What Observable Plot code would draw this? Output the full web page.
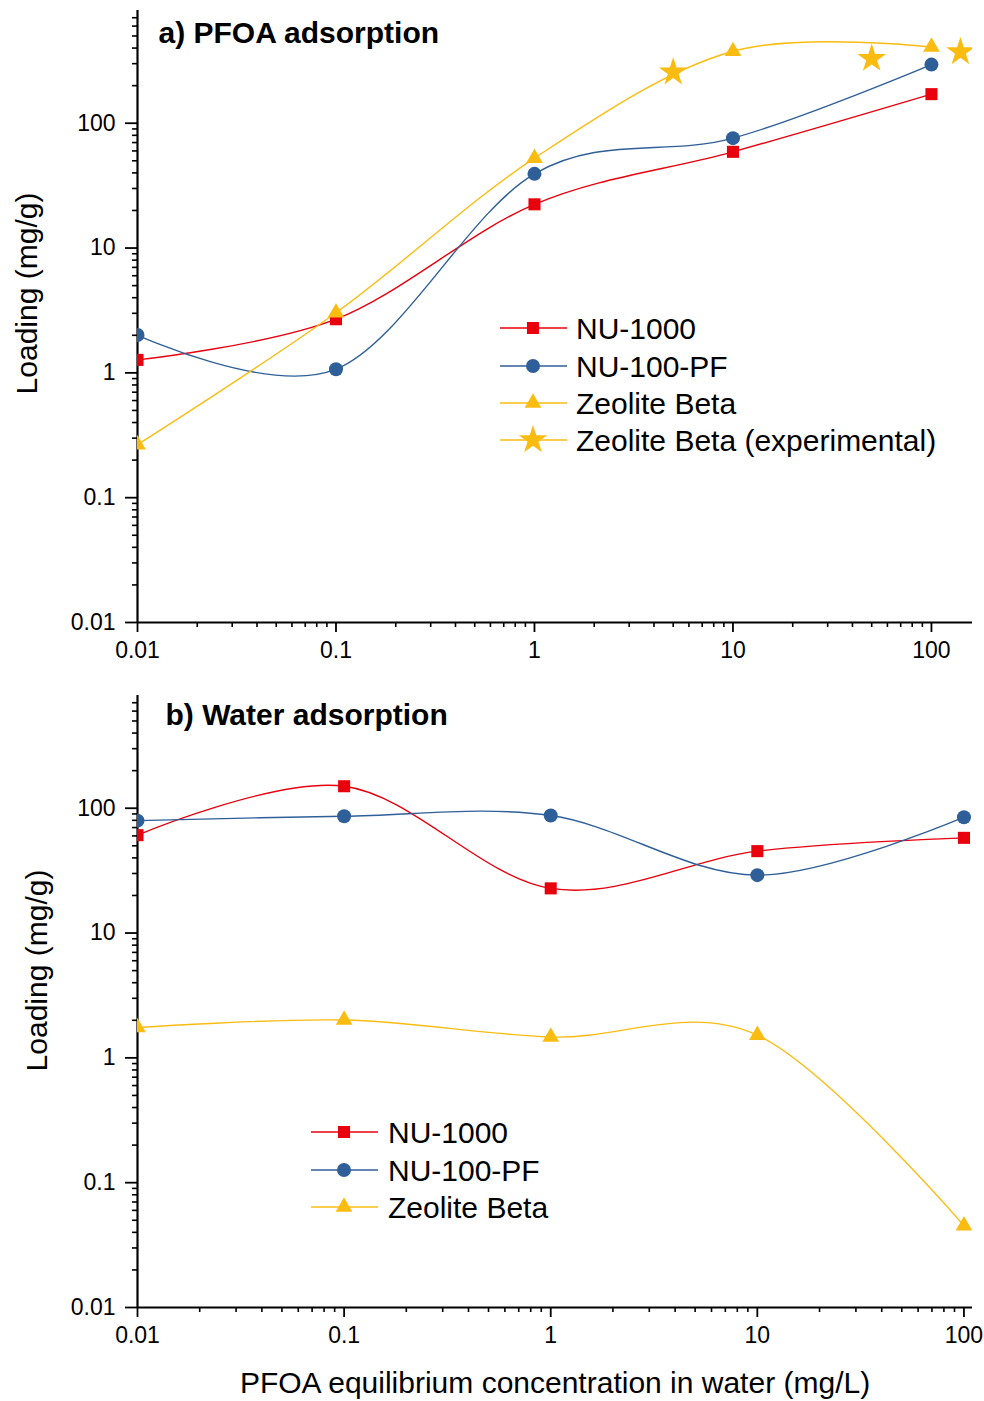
<!DOCTYPE html>
<html>
<head>
<meta charset="utf-8">
<script src="https://cdn.jsdelivr.net/npm/d3@7"></script>
<script src="https://cdn.jsdelivr.net/npm/@observablehq/plot@0.6"></script>
<style>
  body { margin: 0; background: #fff; }
  #fig { position: relative; width: 984px; height: 1401px; font-family: Arial, "Liberation Sans", Helvetica, sans-serif; }
  #fig > svg { position: absolute; left: 0; }
</style>
</head>
<body>
<div id="fig"></div>
<script>
// Equilibrium PFOA concentration in water (mg/L)
const concentrations = [0.01, 0.1, 1, 10, 100];

// a) PFOA loading (mg/g)
const pfoaNU1000   = [1.27, 2.69, 22.4, 59, 171];
const pfoaNU100PF  = [2.01, 1.07, 39.3, 75.9, 295];
const pfoaZeolite  = [0.266, 3.03, 52.5, 377, 408];
// Zeolite Beta, experimental points
const expConcentrations = [5, 50, 140];
const expZeolite        = [256, 329, 372];

// b) Water loading (mg/g)
const waterNU1000  = [60.8, 150, 22.8, 45.3, 57.9];
const waterNU100PF = [79.5, 86.3, 87.4, 29.1, 84.7];
const waterZeolite = [1.75, 2.01, 1.47, 1.52, 0.0453];

const seriesNames = ["NU-1000", "NU-100-PF", "Zeolite Beta"];
const expName = "Zeolite Beta (experimental)";
const majorTicks = [0.01, 0.1, 1, 10, 100];

const FONT = 'Arial, "Liberation Sans", Helvetica, sans-serif';
const COLOR = { "NU-1000": "#e8000d", "NU-100-PF": "#2f5f98", "Zeolite Beta": "#fbbc12" };
const SYMBOL = { "NU-1000": "square", "NU-100-PF": "circle", "Zeolite Beta": "triangle" };
const RADIUS = { "NU-1000": 6.8, "NU-100-PF": 7, "Zeolite Beta": 6.2 };

// 2..9 × 10^k between the ends of a log axis
function minorTicks(lo, hi) {
  const t = [];
  for (let e = -3; e <= 3; e++)
    for (let m = 2; m <= 9; m++) {
      const v = +(m * 10 ** e).toPrecision(3);
      if (v > lo && v < hi) t.push(v);
    }
  return t;
}
const fmt = d => String(d);

function panel(o) {
  const rows = o.series.flatMap(s =>
    concentrations.map((c, i) => ({ series: s.name, x: c, y: s.values[i] })));
  const marks = [
    Plot.axisY({ ticks: minorTicks(0.01, 800), tickSize: 5, tickFormat: () => "", color: "#000", strokeWidth: 1.6, label: null }),
    Plot.axisY({ ticks: majorTicks, tickSize: 12, tickPadding: 10, tickFormat: fmt, color: "#000", strokeWidth: 1.8, label: null }),
    Plot.axisX({ ticks: minorTicks(0.01, o.xMax), tickSize: 5, tickFormat: () => "", color: "#000", strokeWidth: 1.6, label: null }),
    Plot.axisX({ ticks: majorTicks, tickSize: 10, tickPadding: 9, tickFormat: fmt, color: "#000", strokeWidth: 1.8, label: null }),
    Plot.ruleX([0.01], { stroke: "#000", strokeWidth: 2.2 }),
    Plot.ruleY([0.01], { stroke: "#000", strokeWidth: 2.2 }),
    // smooth connecting curves (uniform Catmull–Rom spline through the points)
    Plot.line(rows, { x: "x", y: "y", z: "series", stroke: d => COLOR[d.series], curve: "cardinal", tension: 0, strokeWidth: 1.4, clip: true })
  ];
  for (const s of o.series) {
    marks.push(Plot.dot(rows.filter(d => d.series === s.name), {
      x: "x", y: "y", symbol: () => SYMBOL[s.name], fill: COLOR[s.name], r: RADIUS[s.name], clip: true
    }));
  }
  if (o.stars) {
    marks.push(Plot.dot(o.stars, { x: "x", y: "y", symbol: "star", fill: COLOR["Zeolite Beta"], r: 9, clip: true }));
  }
  marks.push(Plot.text([o.title], { frameAnchor: "top-left", textAnchor: "start", lineAnchor: "top", dx: o.titleDx, dy: o.titleDy, fontSize: 30, fontWeight: "bold", fill: "#000" }));
  marks.push(Plot.text(["Loading (mg/g)"], { frameAnchor: "left", rotate: -90, textAnchor: "middle", lineAnchor: "middle", dx: o.yTitleDx, dy: o.yTitleDy, fontSize: 30, fill: "#000" }));
  if (o.xTitle) {
    marks.push(Plot.text([o.xTitle], { frameAnchor: "bottom", textAnchor: "middle", lineAnchor: "middle", dy: o.xTitleDy, fontSize: 30, fill: "#000" }));
  }
  return Plot.plot({
    width: 984, height: o.height,
    marginLeft: 137, marginRight: o.marginRight, marginTop: o.marginTop, marginBottom: o.marginBottom,
    style: { fontFamily: FONT, fontSize: "23px", background: "transparent", overflow: "visible", color: "#000" },
    x: { type: "log", domain: [0.01, o.xMax] },
    y: { type: "log", domain: [0.01, 800] },
    symbol: { type: "identity" },
    marks
  });
}

const fig = document.getElementById("fig");

const panelA = panel({
  series: [
    { name: seriesNames[0], values: pfoaNU1000 },
    { name: seriesNames[1], values: pfoaNU100PF },
    { name: seriesNames[2], values: pfoaZeolite }
  ],
  stars: expConcentrations.map((x, i) => ({ x, y: expZeolite[i] })),
  xMax: 161, height: 680, marginTop: 10, marginBottom: 58, marginRight: 12,
  title: "a) PFOA adsorption", titleDx: 21, titleDy: 11,
  yTitleDx: -110, yTitleDy: -23
});
panelA.style.top = "0px";
fig.appendChild(panelA);

const panelB = panel({
  series: [
    { name: seriesNames[0], values: waterNU1000 },
    { name: seriesNames[1], values: waterNU100PF },
    { name: seriesNames[2], values: waterZeolite }
  ],
  xMax: 110, height: 721, marginTop: 15, marginBottom: 94, marginRight: 12,
  title: "b) Water adsorption", titleDx: 28, titleDy: 8,
  yTitleDx: -100, yTitleDy: -31,
  xTitle: "PFOA equilibrium concentration in water (mg/L)", xTitleDy: 76
});
panelB.style.top = "680px";
fig.appendChild(panelB);

// Legends: short line with the series marker, then the name
function legend(items, { x0, x1, xm, xt, rows }) {
  const svg = d3.select(fig).append("svg")
    .attr("width", 984).attr("height", 1401)
    .style("top", "0px").style("pointer-events", "none");
  items.forEach((it, i) => {
    const y = rows[i];
    const g = svg.append("g");
    g.append("line").attr("x1", x0).attr("x2", x1).attr("y1", y).attr("y2", y)
      .attr("stroke", it.color).attr("stroke-width", 1.4);
    g.append("path")
      .attr("transform", `translate(${xm},${y})`)
      .attr("d", d3.symbol(it.symbol, Math.PI * it.r * it.r)())
      .attr("fill", it.color);
    g.append("text").attr("x", xt).attr("y", y).attr("dy", "0.36em")
      .attr("font-family", FONT).attr("font-size", 30).attr("fill", "#000")
      .text(it.name);
  });
}
const symbolType = { square: d3.symbolSquare, circle: d3.symbolCircle, triangle: d3.symbolTriangle, star: d3.symbolStar };
const baseItems = seriesNames.map(n => ({ name: n, color: COLOR[n], symbol: symbolType[SYMBOL[n]], r: RADIUS[n] }));

legend([...baseItems, { name: expName, color: COLOR["Zeolite Beta"], symbol: d3.symbolStar, r: 9 }],
  { x0: 500, x1: 567, xm: 533, xt: 576, rows: [328, 366, 403, 440] });
legend(baseItems,
  { x0: 311, x1: 378, xm: 344, xt: 388, rows: [1132, 1170, 1207] });
</script>
</body>
</html>
